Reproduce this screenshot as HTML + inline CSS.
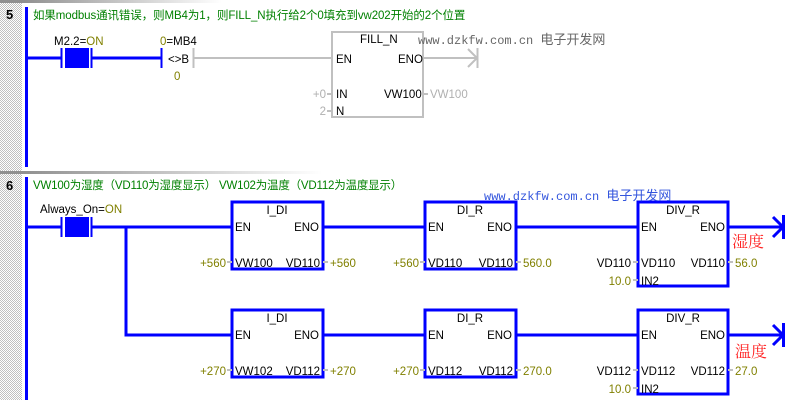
<!DOCTYPE html>
<html><head><meta charset="utf-8"><style>
html,body{margin:0;padding:0;background:#fff;}
svg{display:block;}
text{font-family:"Liberation Sans","Noto Sans CJK SC",sans-serif;font-size:11.5px;}
.k{fill:#000}.o{fill:#808000}.g{fill:#008000}.gr{fill:#b0b0b0}
</style></head><body>
<svg width="798" height="400" xmlns="http://www.w3.org/2000/svg">
<defs>
<pattern id="ck" width="2" height="2" patternUnits="userSpaceOnUse"><rect width="2" height="2" fill="#fff"/><rect width="1" height="1" fill="#c0c0c0"/><rect x="1" y="1" width="1" height="1" fill="#c0c0c0"/></pattern>
<linearGradient id="sep" x1="0" x2="1"><stop offset="0" stop-color="#909090"/><stop offset="1" stop-color="#fff"/></linearGradient>
</defs>
<rect x="0" y="0" width="22" height="400" fill="url(#ck)"/>
<rect x="22" y="0" width="200" height="3" fill="url(#sep)"/>
<rect x="22" y="171" width="300" height="3" fill="url(#sep)"/>
<rect x="0" y="0" width="22" height="3" fill="#909090"/>
<rect x="0" y="171" width="22" height="3" fill="#909090"/>
<text x="6" y="19" style="font-weight:bold;font-size:13px">5</text>
<text x="6" y="190" style="font-weight:bold;font-size:13px">6</text>
<rect x="25" y="7" width="3" height="160" fill="#0000ff"/>
<rect x="25" y="177" width="3" height="223" fill="#0000ff"/>
<text x="33" y="19" class="g" style="letter-spacing:-0.1px">如果modbus通讯错误，则MB4为1，则FILL_N执行给2个0填充到vw202开始的2个位置</text>
<text x="33" y="189" class="g" style="letter-spacing:-0.2px">VW100为湿度（VD110为湿度显示） VW102为温度（VD112为温度显示）</text>

<g fill="none">
<line x1="27" y1="58" x2="61" y2="58" stroke="#0000ff" stroke-width="3"/>
<line x1="92" y1="58" x2="161" y2="58" stroke="#0000ff" stroke-width="3"/>
<line x1="61.5" y1="48" x2="61.5" y2="68" stroke="#0000ff" stroke-width="2"/>
<line x1="91.5" y1="48" x2="91.5" y2="68" stroke="#0000ff" stroke-width="2"/>
<line x1="161.5" y1="48" x2="161.5" y2="68" stroke="#0000ff" stroke-width="2"/>
<line x1="193.5" y1="48" x2="193.5" y2="68" stroke="#c0c0c0" stroke-width="2"/>
<line x1="194" y1="58" x2="332" y2="58" stroke="#c0c0c0" stroke-width="2"/>
<rect x="332" y="32" width="91" height="85" stroke="#c0c0c0" stroke-width="2"/>
<line x1="423" y1="58" x2="477" y2="58" stroke="#c0c0c0" stroke-width="2"/>
<line x1="477.5" y1="48" x2="477.5" y2="68" stroke="#c0c0c0" stroke-width="2"/>
<polyline points="468,49 477,58 468,67" stroke="#c0c0c0" stroke-width="2"/>
<line x1="327" y1="94" x2="332" y2="94" stroke="#c0c0c0" stroke-width="2"/>
<line x1="327" y1="111" x2="332" y2="111" stroke="#c0c0c0" stroke-width="2"/>
<line x1="423" y1="94" x2="428" y2="94" stroke="#c0c0c0" stroke-width="2"/>
</g>
<rect x="65" y="48" width="24" height="20" fill="#0000ff"/>
<text x="54" y="45" class="k">M2.2=<tspan class="o">ON</tspan></text>
<text x="160" y="45" class="k"><tspan class="o">0</tspan>=MB4</text>
<text x="168" y="63" class="k">&lt;&gt;B</text>
<text x="174" y="80" class="o">0</text>
<text x="360" y="43" class="k">FILL_N</text>
<text x="336" y="63" class="k">EN</text>
<text x="398" y="63" class="k">ENO</text>
<text x="336" y="98" class="k">IN</text>
<text x="336" y="115" class="k">N</text>
<text x="384" y="98" class="k">VW100</text>
<text x="326" y="98" class="gr" text-anchor="end">+0</text>
<text x="326" y="115" class="gr" text-anchor="end">2</text>
<text x="430" y="98" class="gr">VW100</text>
<text x="418" y="44" style="font-family:'Liberation Mono',monospace;font-size:12px;fill:#666">www.dzkfw.com.cn <tspan style="font-family:'Noto Sans CJK SC',sans-serif;font-size:13px">电子开发网</tspan></text>

<g fill="none" stroke="#0000ff">
<line x1="27" y1="227" x2="61" y2="227" stroke-width="3"/>
<line x1="92" y1="227" x2="231" y2="227" stroke-width="3"/>
<line x1="61.5" y1="217" x2="61.5" y2="237" stroke-width="2"/>
<line x1="91.5" y1="217" x2="91.5" y2="237" stroke-width="2"/>
<polyline points="126,227 126,335 231,335" stroke-width="3"/>
<rect x="232" y="202" width="91" height="67" stroke-width="3"/>
<rect x="232" y="310" width="91" height="67" stroke-width="3"/>
<rect x="425" y="202" width="91" height="67" stroke-width="3"/>
<rect x="425" y="310" width="91" height="67" stroke-width="3"/>
<rect x="638" y="202" width="90" height="84" stroke-width="3"/>
<rect x="638" y="310" width="90" height="84" stroke-width="3"/>
<line x1="323" y1="227" x2="425" y2="227" stroke-width="3"/>
<line x1="323" y1="335" x2="425" y2="335" stroke-width="3"/>
<line x1="516" y1="227" x2="638" y2="227" stroke-width="3"/>
<line x1="516" y1="335" x2="638" y2="335" stroke-width="3"/>
<line x1="728" y1="227" x2="783" y2="227" stroke-width="3"/>
<line x1="728" y1="335" x2="783" y2="335" stroke-width="3"/>
<line x1="783.5" y1="215" x2="783.5" y2="239" stroke-width="3"/>
<line x1="783.5" y1="323" x2="783.5" y2="347" stroke-width="3"/>
<polyline points="773,217 783,227 773,237" stroke-width="3"/>
<polyline points="773,325 783,335 773,345" stroke-width="3"/>
</g>
<g stroke="#c0c0c0" stroke-width="2">
<line x1="227" y1="262" x2="232" y2="262"/><line x1="323" y1="262" x2="328" y2="262"/>
<line x1="227" y1="370" x2="232" y2="370"/><line x1="323" y1="370" x2="328" y2="370"/>
<line x1="420" y1="262" x2="425" y2="262"/><line x1="516" y1="262" x2="521" y2="262"/>
<line x1="420" y1="370" x2="425" y2="370"/><line x1="516" y1="370" x2="521" y2="370"/>
<line x1="633" y1="262" x2="638" y2="262"/><line x1="633" y1="280" x2="638" y2="280"/>
<line x1="728" y1="262" x2="733" y2="262"/>
<line x1="633" y1="370" x2="638" y2="370"/><line x1="633" y1="388" x2="638" y2="388"/>
<line x1="728" y1="370" x2="733" y2="370"/>
</g>
<rect x="65" y="217" width="24" height="20" fill="#0000ff"/>
<text x="40" y="213" class="k">Always_On=<tspan class="o">ON</tspan></text>

<text x="277" y="214" class="k" text-anchor="middle">I_DI</text>
<text x="277" y="322" class="k" text-anchor="middle">I_DI</text>
<text x="470" y="214" class="k" text-anchor="middle">DI_R</text>
<text x="470" y="322" class="k" text-anchor="middle">DI_R</text>
<text x="683" y="214" class="k" text-anchor="middle">DIV_R</text>
<text x="683" y="322" class="k" text-anchor="middle">DIV_R</text>

<g class="k">
<text x="235" y="231">EN</text><text x="319" y="231" text-anchor="end">ENO</text>
<text x="235" y="339">EN</text><text x="319" y="339" text-anchor="end">ENO</text>
<text x="428" y="231">EN</text><text x="512" y="231" text-anchor="end">ENO</text>
<text x="428" y="339">EN</text><text x="512" y="339" text-anchor="end">ENO</text>
<text x="641" y="231">EN</text><text x="725" y="231" text-anchor="end">ENO</text>
<text x="641" y="339">EN</text><text x="725" y="339" text-anchor="end">ENO</text>
<text x="235" y="267">VW100</text><text x="320" y="267" text-anchor="end">VD110</text>
<text x="235" y="375">VW102</text><text x="320" y="375" text-anchor="end">VD112</text>
<text x="428" y="267">VD110</text><text x="513" y="267" text-anchor="end">VD110</text>
<text x="428" y="375">VD112</text><text x="513" y="375" text-anchor="end">VD112</text>
<text x="641" y="267">VD110</text><text x="725" y="267" text-anchor="end">VD110</text>
<text x="641" y="375">VD112</text><text x="725" y="375" text-anchor="end">VD112</text>
<text x="641" y="285">IN2</text><text x="641" y="393">IN2</text>
<text x="631" y="267" text-anchor="end">VD110</text>
<text x="631" y="375" text-anchor="end">VD112</text>
</g>
<g class="o">
<text x="226" y="267" text-anchor="end">+560</text><text x="330" y="267">+560</text>
<text x="226" y="375" text-anchor="end">+270</text><text x="330" y="375">+270</text>
<text x="419" y="267" text-anchor="end">+560</text><text x="523" y="267">560.0</text>
<text x="419" y="375" text-anchor="end">+270</text><text x="523" y="375">270.0</text>
<text x="631" y="285" text-anchor="end">10.0</text>
<text x="631" y="393" text-anchor="end">10.0</text>
<text x="735" y="267">56.0</text>
<text x="735" y="375">27.0</text>
</g>
<text x="732" y="247" style="font-family:'Noto Serif CJK SC',serif;font-size:16px;fill:#ff2020">湿度</text>
<text x="735" y="357" style="font-family:'Noto Serif CJK SC',serif;font-size:16px;fill:#ff2020">温度</text>
<text x="484" y="200" style="font-family:'Liberation Mono',monospace;font-size:12px;fill:#3355dd">www.dzkfw.com.cn <tspan style="font-family:'Noto Sans CJK SC',sans-serif;font-size:13px">电子开发网</tspan></text>
</svg>
</body></html>
